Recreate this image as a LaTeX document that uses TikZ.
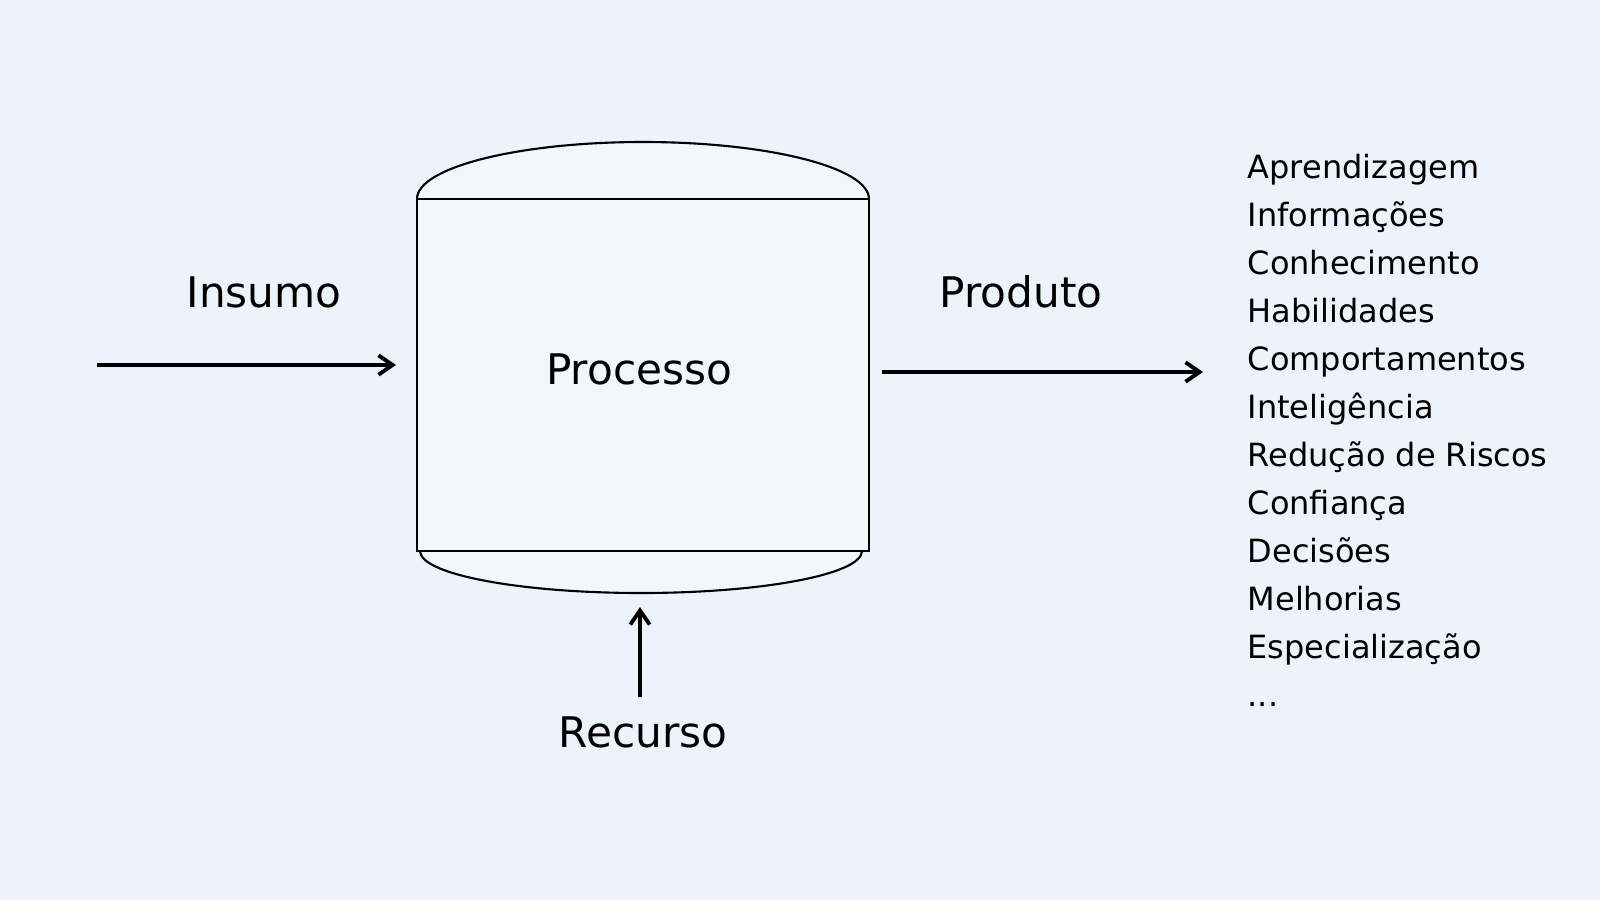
\documentclass[tikz,border=0pt]{standalone}
\usepackage{fontspec}
\setmainfont{DejaVu Sans}
\usetikzlibrary{arrows.meta,calc}
\definecolor{fundo}{RGB}{236,243,251}
\definecolor{tanque}{RGB}{242,247,252}
\tikzset{
  seta/.style={line width=1.1pt, -{Straight Barb[length=4pt,width=5.5pt,line width=1.1pt]}},
  rotulo/.style={font=\fontsize{12}{14}\selectfont, inner sep=0pt, anchor=base},
  contorno/.style={line width=0.6pt, fill=tanque}
}
\begin{document}
\begin{tikzpicture}[x=0.01cm, y=0.01cm]
  % background
  \fill[fundo] (0,0) rectangle (1600,-900);
  \useasboundingbox (0,0) rectangle (1600,-900);
  % the tank: caps, then body
  \draw[contorno] (417,-199) arc[start angle=180, end angle=0, x radius=226, y radius=57];
  \draw[contorno] (420,-551) arc[start angle=180, end angle=360, x radius=221, y radius=42];
  \node[contorno, draw, minimum width=452*0.01cm, minimum height=352*0.01cm, inner sep=0pt] (corpo) at (643,-375) {};
  % labels
  \node[rotulo] (processo) at (639,-384) {Processo};
  \node[rotulo] (insumo) at (264,-307) {Insumo};
  \node[rotulo] (produto) at (1021,-307) {Produto};
  \node[rotulo] (recurso) at (643,-747) {Recurso};
  % list of products
  \node[anchor=north west, align=left, inner sep=0pt,
        font=\fontsize{9.1}{13.66}\selectfont] (lista) at (1247,-153)
    {Aprendizagem\\Informações\\Conhecimento\\Habilidades\\Comportamentos\\Inteligência\\Redução de Riscos\\Confiança\\Decisões\\Melhorias\\Especialização\\...};
  % arrows
  \coordinate (insumoIni) at (97,-365);
  \coordinate (insumoFim) at (396,-365);
  \coordinate (produtoIni) at (882,-372);
  \coordinate (produtoFim) at (1203,-372);
  \coordinate (recursoIni) at (640,-697);
  \coordinate (recursoFim) at (640,-607);
  \draw[seta] (insumoIni) -- (insumoFim);
  \draw[seta] (produtoIni) -- (produtoFim);
  \draw[seta] (recursoIni) -- (recursoFim);
\end{tikzpicture}
\end{document}
